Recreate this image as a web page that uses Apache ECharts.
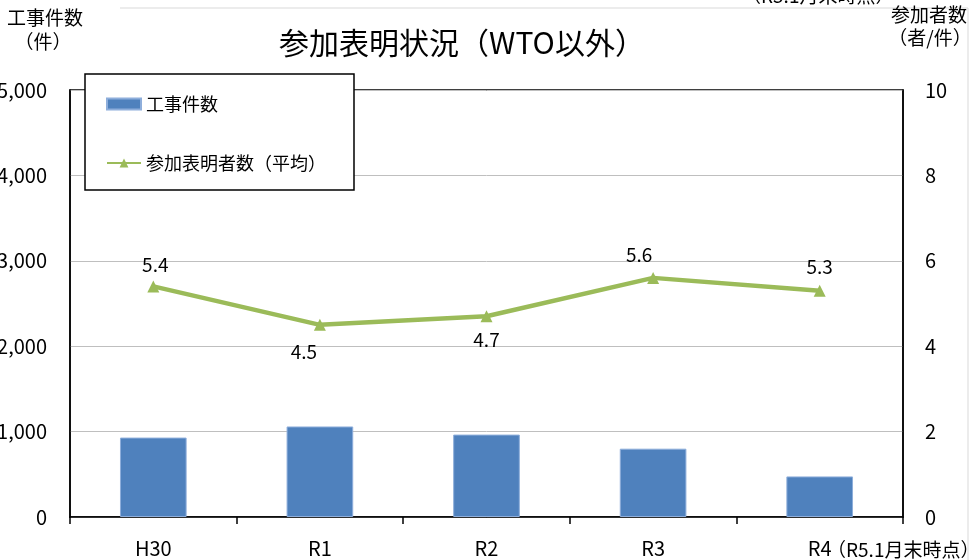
<!DOCTYPE html>
<html><head><meta charset="utf-8">
<script src="https://cdn.jsdelivr.net/npm/echarts@6/dist/echarts.min.js"></script>
<style>html,body{margin:0;padding:0;background:#fff}#c{width:980px;height:560px}</style>
</head><body><div id="c"></div>
<script>
const categories = ['H30', 'R1', 'R2', 'R3', 'R4'];
const projectCounts = [930, 1060, 965, 800, 475];
const avgParticipants = [5.4, 4.5, 4.7, 5.6, 5.3];
const leftTicks = [0, 1000, 2000, 3000, 4000, 5000];
const rightTicks = [0, 2, 4, 6, 8, 10];
const labelPos = ['top', 'bottom', 'bottom', 'top', 'top'];
const labelShift = [[2, 2], [-16, 3], [0, 0], [-14, 0], [0, 0]];

const FONT = '"Noto Sans CJK JP", "Noto Sans", sans-serif';
const chart = echarts.init(document.getElementById('c'));
chart.setOption({
  animation: false,
  textStyle: { fontFamily: FONT, color: '#000' },
  title: {
    text: '参加表明状況（WTO以外）',
    left: 457, top: 23, textAlign: 'center',
    textStyle: { fontFamily: FONT, fontSize: 30, fontWeight: 'normal', color: '#000' }
  },
  grid: { left: 70, right: 77, top: 90, bottom: 43, show: true, borderColor: '#000', borderWidth: 1.5,
    containLabel: false, outerBoundsMode: 'none' },
  legend: {
    orient: 'vertical', left: 85, top: 74,
    padding: [21, 28, 18, 21], itemGap: 41,
    itemWidth: 34, itemHeight: 11,
    backgroundColor: '#fff', borderColor: '#000', borderWidth: 1.5,
    textStyle: { fontFamily: FONT, fontSize: 18, color: '#000' },
    data: [{ name: '工事件数', icon: 'rect' }, { name: '参加表明者数（平均）' }]
  },
  xAxis: {
    type: 'category', data: categories, boundaryGap: true,
    axisLine: { lineStyle: { color: '#000', width: 1.5 } },
    axisTick: { show: true, length: 7, lineStyle: { color: '#000', width: 1.5 } },
    axisLabel: { fontSize: 20, color: '#000', margin: 21, fontFamily: FONT }
  },
  yAxis: [
    {
      type: 'value', min: leftTicks[0], max: leftTicks[leftTicks.length - 1], interval: leftTicks[1] - leftTicks[0],
      axisLine: { show: true, lineStyle: { color: '#000', width: 1.5 } },
      axisTick: { show: false },
      splitLine: { lineStyle: { color: '#bfbfbf', width: 1 } },
      axisLabel: { fontSize: 20, color: '#000', margin: 23, fontFamily: FONT,
        formatter: v => v.toLocaleString('en-US') }
    },
    {
      type: 'value', min: rightTicks[0], max: rightTicks[rightTicks.length - 1], interval: rightTicks[1] - rightTicks[0],
      axisLine: { show: true, lineStyle: { color: '#000', width: 1.5 } },
      axisTick: { show: false },
      splitLine: { show: false },
      axisLabel: { fontSize: 20, color: '#000', margin: 22, fontFamily: FONT }
    }
  ],
  series: [
    {
      name: '工事件数', type: 'bar', data: projectCounts, barWidth: '40%',
      itemStyle: { color: '#4F81BD', borderColor: '#8eaedb', borderWidth: 1 }
    },
    {
      name: '参加表明者数（平均）', type: 'line', yAxisIndex: 1, z: 5,
      data: avgParticipants.map((v, i) => ({
        value: v,
        label: { position: labelPos[i], offset: labelShift[i] }
      })),
      symbol: 'triangle', symbolSize: 12,
      lineStyle: { color: '#9BBB59', width: 4.5 },
      itemStyle: { color: '#9BBB59' },
      label: { show: true, fontSize: 19, color: '#000', fontFamily: FONT, distance: 8,
        formatter: p => p.value.toFixed(1) }
    }
  ],
  graphic: [
    { type: 'line', shape: { x1: 120, y1: 8, x2: 968, y2: 8 }, style: { stroke: '#d9d9d9', lineWidth: 1 }, silent: true },
    { type: 'line', shape: { x1: 968, y1: 8, x2: 968, y2: 560 }, style: { stroke: '#d9d9d9', lineWidth: 1 }, silent: true },
    { type: 'text', x: 742, y: -14, style: { text: '（R5.1月末時点）', font: '19px ' + FONT, fill: '#000' } },
    { type: 'text', x: 45, y: 18, style: { text: '工事件数', font: '19px ' + FONT, fill: '#000', align: 'center', verticalAlign: 'middle' } },
    { type: 'text', x: 43, y: 42, style: { text: '（件）', font: '19px ' + FONT, fill: '#000', align: 'center', verticalAlign: 'middle' } },
    { type: 'text', x: 929, y: 15, style: { text: '参加者数', font: '19px ' + FONT, fill: '#000', align: 'center', verticalAlign: 'middle' } },
    { type: 'text', x: 930, y: 38, style: { text: '（者/件）', font: '19px ' + FONT, fill: '#000', align: 'center', verticalAlign: 'middle' } },
    { type: 'text', x: 827, y: 550, style: { text: '（R5.1月末時点）', font: '19px ' + FONT, fill: '#000', align: 'left', verticalAlign: 'middle' } }
  ]
});
</script></body></html>
